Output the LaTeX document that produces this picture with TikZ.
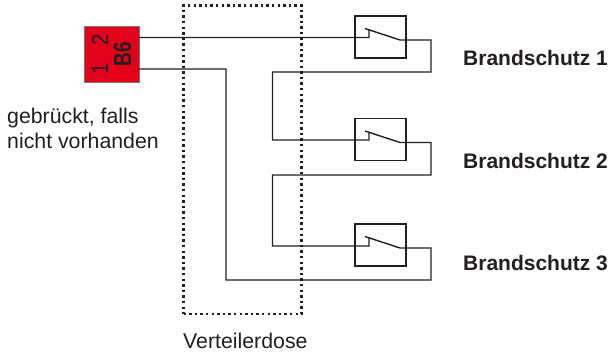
\documentclass[tikz,border=0pt]{standalone}
\usepackage{graphicx}
\usepackage{fontspec}
\setmainfont{Liberation Sans}
\definecolor{fuse}{RGB}{226,0,26}
\definecolor{ink}{RGB}{35,31,32}
\tikzset{
  wire/.style={draw=ink,line width=1.4pt,line join=miter},
  switchbox/.style={draw=ink,line width=1.4pt,minimum width=51pt,minimum height=42pt,inner sep=0pt},
  fusebox/.style={draw=ink!60,fill=fuse,line width=.8pt,minimum width=55pt,minimum height=56pt,inner sep=0pt},
  label/.style={text=ink,font=\fontsize{21.3}{25}\selectfont,inner sep=0pt},
  blabel/.style={label,font=\fontsize{21}{25}\selectfont\bfseries,anchor=west},
  fuselabel/.style={text=ink,rotate=90,inner sep=0pt}
}
\begin{document}
\begin{tikzpicture}[x=1pt,y=-1pt]
\useasboundingbox (0,0) rectangle (610,356);
\fill[white] (0,0) rectangle (610,356);
\node[fusebox] (fuse) at (111.5,54) {};
\node[fuselabel,font=\fontsize{20}{20}\selectfont] (t2) at (100,40) {\scalebox{1}[1.15]{2}};
\node[fuselabel,font=\fontsize{20}{20}\selectfont] (t1) at (100,69) {\scalebox{1}[1.15]{1}};
\node[fuselabel,font=\fontsize{19}{19}\selectfont\bfseries] (tb) at (122.5,54) {\scalebox{1}[1.3]{B6}};
\node[draw=ink,line width=2.2pt,dash pattern=on 2.4pt off 3.2pt,minimum width=118pt,minimum height=308.5pt,inner sep=0pt] (dose) at (242.5,159.75) {};
\node[switchbox] (s1) at (380.5,37) {};
\node[switchbox] (s2) at (380.5,139.25) {};
\node[switchbox] (s3) at (380.5,245) {};
\coordinate (f1) at (139,37.5);
\coordinate (f2) at (139,69);
\coordinate (a1) at (369,37.5);
\coordinate (b1) at (369,30.5);
\coordinate (c1) at (365,28.5);
\coordinate (d1) at (400,40);
\coordinate (e1) at (431,40);
\coordinate (g1) at (431,72);
\coordinate (h1) at (272.5,72);
\coordinate (a2) at (369,140);
\coordinate (b2) at (369,133);
\coordinate (c2) at (365,131);
\coordinate (d2) at (400,142.5);
\coordinate (e2) at (431,142.5);
\coordinate (g2) at (431,175);
\coordinate (h2) at (272.5,175);
\coordinate (a3) at (369,246);
\coordinate (b3) at (369,238.5);
\coordinate (c3) at (365,236.5);
\coordinate (d3) at (400,248);
\coordinate (e3) at (431,248);
\coordinate (g3) at (431,280);
\coordinate (h3) at (226,280);
\coordinate (i3) at (226,69);
\draw[wire] (f1) -- (a1) -- (b1) (c1) -- (d1) -- (e1) -- (g1) -- (h1) -- (h1 |- a2) -- (a2) -- (b2) (c2) -- (d2) -- (e2) -- (g2) -- (h2) -- (h2 |- a3) -- (a3) -- (b3) (c3) -- (d3) -- (e3) -- (g3) -- (h3) -- (i3) -- (f2);
\node[blabel] (b1l) at (463,58) {Brandschutz 1};
\node[blabel] (b2l) at (463,161) {Brandschutz 2};
\node[blabel] (b3l) at (463,263) {Brandschutz 3};
\node[label,anchor=west] (g1l) at (7,118) {gebrückt, falls};
\node[label,anchor=west] (g2l) at (7,141) {nicht vorhanden};
\node[label,anchor=west] (vl) at (183,341) {Verteilerdose};
\end{tikzpicture}
\end{document}
